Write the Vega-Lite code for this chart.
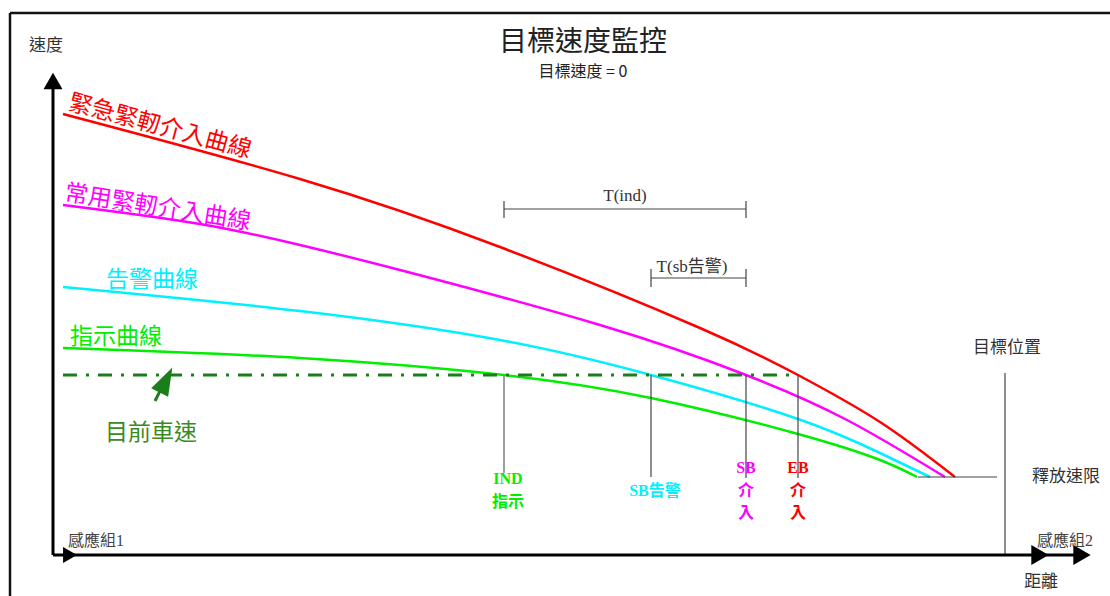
{
  "$schema": "https://vega.github.io/schema/vega-lite/v6.json",
  "width": 1110,
  "height": 596,
  "autosize": "none",
  "padding": 0,
  "background": "white",
  "config": {"view": {"stroke": null}},
  "datasets": {
    "border": [{"x": 10, "y": 13, "x2": 1110, "y2": 13}, {"x": 10, "y": 13, "x2": 10, "y2": 596}],
    "axes": [{"x": 53, "y": 555, "x2": 53, "y2": 86}, {"x": 53, "y": 555, "x2": 1078, "y2": 555}],
    "upArrow": [{"x": 53, "y": 81}],
    "rightArrows": [{"x": 1040, "y": 555}, {"x": 1082, "y": 555}],
    "leftArrow": [{"x": 70, "y": 555}],
    "curves": [
      {"c": "EB", "x": 63, "y": 114}, {"c": "EB", "x": 300, "y": 179}, {"c": "EB", "x": 500, "y": 247}, {"c": "EB", "x": 700, "y": 328}, {"c": "EB", "x": 798, "y": 375}, {"c": "EB", "x": 880, "y": 422}, {"c": "EB", "x": 955, "y": 477},
      {"c": "SB", "x": 63, "y": 205}, {"c": "SB", "x": 200, "y": 224}, {"c": "SB", "x": 300, "y": 245}, {"c": "SB", "x": 400, "y": 270}, {"c": "SB", "x": 600, "y": 325}, {"c": "SB", "x": 746, "y": 375}, {"c": "SB", "x": 847, "y": 420}, {"c": "SB", "x": 945, "y": 477},
      {"c": "W", "x": 63, "y": 287}, {"c": "W", "x": 300, "y": 311}, {"c": "W", "x": 500, "y": 340}, {"c": "W", "x": 651, "y": 375}, {"c": "W", "x": 798, "y": 419}, {"c": "W", "x": 880, "y": 453}, {"c": "W", "x": 930, "y": 477},
      {"c": "IND", "x": 63, "y": 348}, {"c": "IND", "x": 300, "y": 358}, {"c": "IND", "x": 504, "y": 375}, {"c": "IND", "x": 651, "y": 398}, {"c": "IND", "x": 798, "y": 434}, {"c": "IND", "x": 880, "y": 460}, {"c": "IND", "x": 917, "y": 477}
    ],
    "speed": [{"x": 63, "y": 375, "x2": 798, "y2": 375}],
    "guides": [
      {"x": 651, "y": 375, "x2": 651, "y2": 477},
      {"x": 746, "y": 375, "x2": 746, "y2": 478},
      {"x": 798, "y": 375, "x2": 798, "y2": 478},
      {"x": 504, "y": 209, "x2": 746, "y2": 209},
      {"x": 504, "y": 201, "x2": 504, "y2": 218},
      {"x": 746, "y": 201, "x2": 746, "y2": 218},
      {"x": 651, "y": 278, "x2": 746, "y2": 278},
      {"x": 651, "y": 269, "x2": 651, "y2": 287},
      {"x": 746, "y": 269, "x2": 746, "y2": 287},
      {"x": 918, "y": 477, "x2": 997, "y2": 477},
      {"x": 1005, "y": 373, "x2": 1005, "y2": 555}
    ],
    "indGuide": [{"x": 504, "y": 375, "x2": 504, "y2": 473}],
    "pointer": [{"x": 166, "y": 380}],
    "pointerTail": [{"x": 155, "y": 401, "x2": 161, "y2": 389}],
    "title": [{"x": 583, "y": 43, "t": "目標速度監控"}],
    "subtitle": [{"x": 583, "y": 72, "t": "目標速度 = 0"}],
    "grayLabels": [{"x": 46, "y": 46, "t": "速度"}, {"x": 1007, "y": 348, "t": "目標位置"}, {"x": 1066, "y": 477, "t": "釋放速限"}, {"x": 1041, "y": 582, "t": "距離"}],
    "sensor": [{"x": 68, "y": 541, "t": "感應組1"}, {"x": 1037, "y": 541, "t": "感應組2"}],
    "labelRed": [{"x": 66, "y": 114, "t": "緊急緊軔介入曲線", "c": "EB"}],
    "labelMag": [{"x": 63, "y": 205, "t": "常用緊軔介入曲線", "c": "SB"}],
    "labelFlat": [{"x": 152, "y": 280, "t": "告警曲線", "c": "W"}, {"x": 116, "y": 337, "t": "指示曲線", "c": "IND"}],
    "speedLabel": [{"x": 151, "y": 433, "t": "目前車速"}],
    "bracketLabels": [{"x": 625, "y": 196, "t": "T(ind)"}, {"x": 692, "y": 267, "t": "T(sb告警)"}],
    "pointLabels": [
      {"x": 508, "y": 479, "t": "IND", "c": "IND"}, {"x": 508, "y": 502, "t": "指示", "c": "IND"},
      {"x": 655, "y": 491, "t": "SB告警", "c": "W"},
      {"x": 746, "y": 468, "t": "SB", "c": "SB"}, {"x": 746, "y": 491, "t": "介", "c": "SB"}, {"x": 746, "y": 513, "t": "入", "c": "SB"},
      {"x": 798, "y": 468, "t": "EB", "c": "EB"}, {"x": 798, "y": 491, "t": "介", "c": "EB"}, {"x": 798, "y": 513, "t": "入", "c": "EB"}
    ]
  },
  "encoding": {
    "x": {"field": "x", "type": "quantitative", "scale": {"domain": [0, 1110], "nice": false, "zero": false}, "axis": null},
    "y": {"field": "y", "type": "quantitative", "scale": {"domain": [0, 596], "nice": false, "zero": false, "reverse": true}, "axis": null}
  },
  "layer": [
    {"data": {"name": "border"}, "mark": {"type": "rule", "color": "#111", "strokeWidth": 2.5},
     "encoding": {"x2": {"field": "x2"}, "y2": {"field": "y2"}}},
    {"data": {"name": "curves"}, "mark": {"type": "line", "interpolate": "natural", "strokeWidth": 2.5},
     "encoding": {"color": {"field": "c", "type": "nominal", "scale": {"domain": ["EB", "SB", "W", "IND"], "range": ["#ff0000", "#ff00ff", "#00f0ff", "#00ee00"]}, "legend": null}}},
    {"data": {"name": "guides"}, "mark": {"type": "rule", "color": "#444", "strokeWidth": 1.2},
     "encoding": {"x2": {"field": "x2"}, "y2": {"field": "y2"}}},
    {"data": {"name": "indGuide"}, "mark": {"type": "rule", "color": "#888", "strokeWidth": 1.6},
     "encoding": {"x2": {"field": "x2"}, "y2": {"field": "y2"}}},
    {"data": {"name": "speed"}, "mark": {"type": "rule", "color": "#1a7f1a", "strokeWidth": 3.2, "strokeDash": [14, 9, 3, 9]},
     "encoding": {"x2": {"field": "x2"}, "y2": {"field": "y2"}}},
    {"data": {"name": "axes"}, "mark": {"type": "rule", "color": "#000", "strokeWidth": 3},
     "encoding": {"x2": {"field": "x2"}, "y2": {"field": "y2"}}},
    {"data": {"name": "upArrow"}, "mark": {"type": "point", "shape": "triangle-up", "filled": true, "color": "#000", "size": 361, "opacity": 1}},
    {"data": {"name": "rightArrows"}, "mark": {"type": "point", "shape": "triangle-right", "filled": true, "color": "#000", "size": 400, "opacity": 1}},
    {"data": {"name": "leftArrow"}, "mark": {"type": "point", "shape": "triangle-right", "filled": true, "color": "#000", "size": 256, "opacity": 1}},
    {"data": {"name": "pointerTail"}, "mark": {"type": "rule", "color": "#1a7f1a", "strokeWidth": 3},
     "encoding": {"x2": {"field": "x2"}, "y2": {"field": "y2"}}},
    {"data": {"name": "pointer"}, "mark": {"type": "point", "shape": "M0,-1L-0.68,1L0.68,1Z", "filled": true, "color": "#1a7f1a", "size": 784, "angle": 27, "opacity": 1}},
    {"data": {"name": "title"}, "mark": {"type": "text", "font": "Noto Sans CJK TC", "fontSize": 28, "color": "#222", "align": "center", "baseline": "middle"},
     "encoding": {"text": {"field": "t"}}},
    {"data": {"name": "subtitle"}, "mark": {"type": "text", "font": "Noto Sans CJK TC", "fontSize": 16, "color": "#222", "align": "center", "baseline": "middle"},
     "encoding": {"text": {"field": "t"}}},
    {"data": {"name": "grayLabels"}, "mark": {"type": "text", "font": "Noto Sans CJK TC", "fontSize": 17, "color": "#333", "align": "center", "baseline": "middle"},
     "encoding": {"text": {"field": "t"}}},
    {"data": {"name": "sensor"}, "mark": {"type": "text", "font": "Liberation Serif, Noto Sans CJK TC", "fontSize": 16, "color": "#444", "align": "left", "baseline": "middle"},
     "encoding": {"text": {"field": "t"}}},
    {"data": {"name": "labelRed"}, "mark": {"type": "text", "font": "Noto Sans CJK TC", "fontSize": 23.5, "align": "left", "baseline": "bottom", "angle": 15},
     "encoding": {"text": {"field": "t"}, "color": {"field": "c", "type": "nominal", "legend": null}}},
    {"data": {"name": "labelMag"}, "mark": {"type": "text", "font": "Noto Sans CJK TC", "fontSize": 23.5, "align": "left", "baseline": "bottom", "angle": 9},
     "encoding": {"text": {"field": "t"}, "color": {"field": "c", "type": "nominal", "legend": null}}},
    {"data": {"name": "labelFlat"}, "mark": {"type": "text", "font": "Noto Sans CJK TC", "fontSize": 23, "align": "center", "baseline": "middle"},
     "encoding": {"text": {"field": "t"}, "color": {"field": "c", "type": "nominal", "legend": null}}},
    {"data": {"name": "speedLabel"}, "mark": {"type": "text", "font": "Noto Sans CJK TC", "fontSize": 23, "color": "#3a8a22", "align": "center", "baseline": "middle"},
     "encoding": {"text": {"field": "t"}}},
    {"data": {"name": "bracketLabels"}, "mark": {"type": "text", "font": "Liberation Serif, Noto Sans CJK TC", "fontSize": 17, "color": "#333", "align": "center", "baseline": "middle"},
     "encoding": {"text": {"field": "t"}}},
    {"data": {"name": "pointLabels"}, "mark": {"type": "text", "font": "Liberation Serif, Noto Sans CJK TC", "fontSize": 16, "fontWeight": "bold", "align": "center", "baseline": "middle"},
     "encoding": {"text": {"field": "t"}, "color": {"field": "c", "type": "nominal", "legend": null}}}
  ]
}
